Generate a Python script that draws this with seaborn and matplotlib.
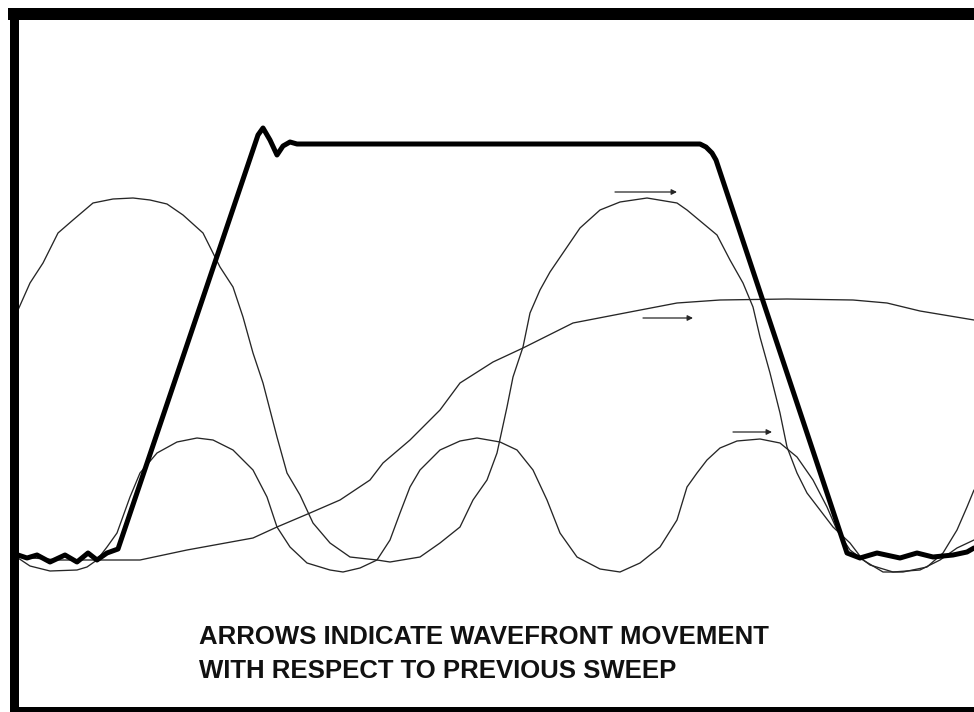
import matplotlib
matplotlib.use("Agg")
import matplotlib.pyplot as plt
import seaborn as sns
import pandas as pd

# ---- data (in screen-pixel units) ----
pulse_x = [18, 27, 37, 50, 65, 77, 88, 97, 107, 118, 258, 263, 270, 277, 283, 290, 297,
           700, 706, 712, 716, 847, 860, 877, 900, 917, 933, 953, 967, 974]
pulse_y = [555, 558, 555, 562, 555, 562, 553, 560, 553, 549, 135, 128, 140, 155, 146, 142, 144,
           144, 147, 153, 160, 553, 558, 553, 558, 553, 557, 555, 552, 548]

large_x = [18, 30, 43, 58, 73, 93, 113, 133, 150, 167, 183, 203, 220, 233, 243, 253, 263, 277,
           287, 300, 313, 330, 350, 377, 390, 420, 440, 460, 473, 487, 497, 507, 513, 523, 530,
           540, 550, 565, 580, 600, 620, 647, 677, 687, 717, 730, 743, 753, 760, 770, 780, 787,
           797, 807, 820, 833, 850, 863, 883, 903, 927, 943, 957, 967, 974]
large_y = [310, 283, 263, 233, 220, 203, 199, 198, 200, 204, 215, 233, 267, 287, 317, 353, 383, 437,
           473, 495, 523, 543, 557, 560, 562, 557, 543, 527, 500, 480, 453, 407, 377, 347, 313,
           290, 272, 250, 228, 210, 202, 198, 203, 210, 235, 260, 283, 307, 337, 373, 413, 447,
           473, 493, 510, 527, 543, 560, 572, 572, 567, 553, 530, 507, 490]

small_x = [18, 30, 50, 77, 87, 97, 107, 117, 130, 140, 157, 177, 197, 213, 233, 253, 267, 277,
           290, 307, 330, 343, 360, 377, 390, 400, 410, 420, 440, 460, 477, 500, 517, 533, 547,
           560, 577, 600, 620, 640, 660, 677, 687, 697, 707, 720, 737, 760, 780, 797, 813, 827,
           837, 850, 870, 893, 920, 940, 957, 974]
small_y = [558, 566, 571, 570, 567, 560, 547, 533, 497, 473, 453, 442, 438, 440, 450, 470, 497, 527,
           547, 563, 570, 572, 568, 560, 540, 513, 487, 470, 450, 441, 438, 442, 450, 470, 500,
           533, 557, 569, 572, 563, 547, 520, 487, 473, 460, 448, 441, 439, 443, 457, 480, 507,
           530, 550, 565, 572, 570, 560, 548, 540]

slow_x = [18, 60, 100, 140, 187, 253, 277, 310, 340, 370, 383, 410, 440, 460, 493, 523, 573,
          630, 677, 720, 787, 853, 887, 920, 974]
slow_y = [557, 560, 560, 560, 550, 538, 527, 513, 500, 480, 463, 440, 410, 383, 362, 348, 323,
          312, 303, 300, 299, 300, 303, 311, 320]

arrow_x0 = [615, 643, 733]
arrow_x1 = [677, 693, 772]
arrow_y = [192, 318, 432]

caption = ["ARROWS INDICATE WAVEFRONT MOVEMENT", "WITH RESPECT TO PREVIOUS SWEEP"]

# ---- figure ----
sns.set_theme(style="white")
plt.rcParams['font.family'] = ['Liberation Sans', 'DejaVu Sans']

W, H = 974, 712
fig = plt.figure(figsize=(W / 100, H / 100), dpi=100)
fig.patch.set_facecolor("white")

left_px, top_px, bottom_px = 13.5, 14.0, 711.0
ax = fig.add_axes([left_px / W, (H - bottom_px) / H, 1 - left_px / W, (bottom_px - top_px) / H])
ax.set_facecolor("white")

thin = dict(color="#262626", linewidth=0.95)
for xs, ys in [(large_x, large_y), (small_x, small_y), (slow_x, slow_y)]:
    df = pd.DataFrame({"x": xs, "y": ys})
    sns.lineplot(data=df, x="x", y="y", sort=False, estimator=None, ax=ax, **thin)

dfp = pd.DataFrame({"x": pulse_x, "y": pulse_y})
sns.lineplot(data=dfp, x="x", y="y", sort=False, estimator=None, ax=ax,
             color="black", linewidth=3.6, solid_joinstyle="round", solid_capstyle="round")

for x0, x1, y in zip(arrow_x0, arrow_x1, arrow_y):
    ax.annotate("", xy=(x1, y), xytext=(x0, y),
                arrowprops=dict(arrowstyle="-|>", color="#262626", lw=0.9,
                                mutation_scale=8, shrinkA=0, shrinkB=0))

for i, line in enumerate(caption):
    ax.text(199, 644 + 34 * i, line, fontsize=18.5, fontweight="bold", color="#111111",
            va="baseline", ha="left")

ax.set_xlim(left_px, W)
ax.set_ylim(bottom_px, top_px)
ax.set_xticks([])
ax.set_yticks([])
ax.set_xlabel("")
ax.set_ylabel("")
ax.spines["right"].set_visible(False)
ax.spines["left"].set_linewidth(9 * 0.72)
ax.spines["top"].set_linewidth(12 * 0.72)
ax.spines["bottom"].set_linewidth(8 * 0.72)
for s in ["left", "top", "bottom"]:
    ax.spines[s].set_color("black")
    ax.spines[s].set_capstyle("projecting")

fig.savefig("out.png", dpi=100)
